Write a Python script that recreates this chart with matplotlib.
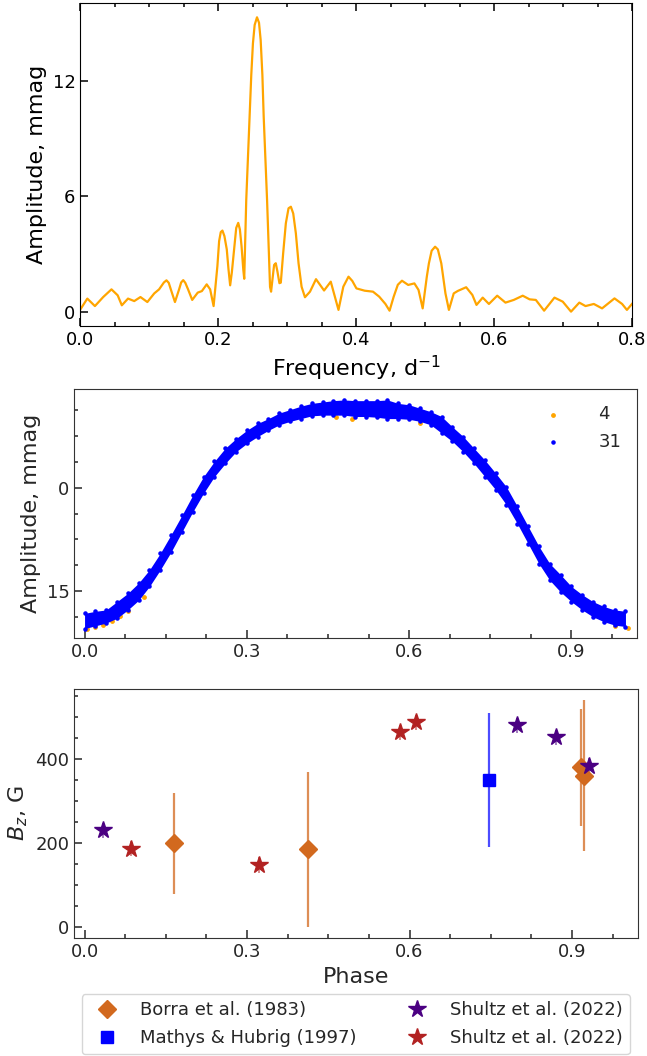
import matplotlib
matplotlib.use("Agg")
import matplotlib.pyplot as plt
from matplotlib.ticker import MultipleLocator, AutoMinorLocator

# --- periodogram ---
freq = [0.000, 0.010, 0.021, 0.033, 0.045, 0.054, 0.060, 0.069, 0.078, 0.087,
        0.097, 0.107, 0.114, 0.121, 0.1247, 0.128, 0.131, 0.137, 0.143, 0.146,
        0.149, 0.152, 0.156, 0.162, 0.170, 0.176, 0.183, 0.188, 0.193,
        0.1985, 0.2010, 0.2034, 0.2058, 0.2087, 0.2121, 0.2146, 0.2170, 0.2194,
        0.2228, 0.2258, 0.2287, 0.2311, 0.2335, 0.2360, 0.2374,
        0.2403, 0.2428, 0.2452, 0.2476, 0.2500, 0.2525, 0.2559, 0.2588, 0.2612,
        0.2637, 0.2656, 0.2680, 0.2705, 0.2729, 0.2748, 0.2763, 0.2782, 0.2807,
        0.2831, 0.2855, 0.2884, 0.2904, 0.2938, 0.2977, 0.3016, 0.3050, 0.3084,
        0.3122, 0.3161, 0.3205, 0.3254, 0.3327, 0.3414, 0.3531, 0.3628, 0.374,
        0.381, 0.3885, 0.394, 0.400, 0.412, 0.424, 0.433, 0.442, 0.448, 0.454,
        0.460, 0.466, 0.475, 0.484, 0.490, 0.496, 0.502, 0.505, 0.509, 0.514,
        0.518, 0.523, 0.529, 0.534, 0.541, 0.547, 0.559, 0.568, 0.574,
        0.583, 0.592, 0.604, 0.616, 0.628, 0.641, 0.651, 0.660, 0.672, 0.687,
        0.699, 0.711, 0.723, 0.732, 0.744, 0.756, 0.774, 0.785, 0.792, 0.800]
amp = [0.12, 0.68, 0.29, 0.76, 1.16, 0.85, 0.33, 0.68, 0.55, 0.76,
       0.50, 0.95, 1.16, 1.52, 1.63, 1.50, 1.16, 0.50, 1.16, 1.52,
       1.64, 1.50, 1.16, 0.61, 0.99, 1.07, 1.42, 1.16, 0.29,
       2.37, 3.67, 4.14, 4.22, 3.93, 3.24, 2.20, 1.37, 2.03,
       3.24, 4.36, 4.62, 4.28, 3.41, 2.20, 1.71,
       5.80, 8.07, 10.15, 12.32, 13.96, 14.92, 15.32, 15.04, 14.14,
       12.32, 10.15, 8.07, 5.80, 3.21, 1.29, 1.04, 1.65, 2.43,
       2.52, 2.09, 1.48, 1.51, 3.03, 4.60, 5.38, 5.46, 5.11,
       4.08, 2.52, 1.30, 0.75, 1.04, 1.69, 1.10, 1.56, 0.09,
       1.30, 1.82, 1.60, 1.21, 1.09, 1.04, 0.78, 0.40, 0.05, 0.78,
       1.40, 1.61, 1.39, 1.47, 1.13, 0.17, 1.82, 2.51, 3.17, 3.38,
       3.24, 2.51, 0.95, 0.09, 0.95, 1.08, 1.27, 0.87, 0.35,
       0.73, 0.40, 0.83, 0.47, 0.61, 0.83, 0.64, 0.61, 0.05, 0.73,
       0.52, 0.00, 0.47, 0.29, 0.40, 0.17, 0.69, 0.40, 0.09, 0.43]

# --- phased light curve: edges of the dense band of points ---
lc_phase = [0.00, 0.02, 0.04, 0.06, 0.08, 0.10, 0.12, 0.14, 0.16, 0.18,
            0.20, 0.22, 0.24, 0.26, 0.28, 0.30, 0.32, 0.34, 0.36, 0.38,
            0.40, 0.42, 0.44, 0.46, 0.48, 0.50, 0.52, 0.54, 0.56, 0.58,
            0.60, 0.62, 0.64, 0.66, 0.68, 0.70, 0.72, 0.74, 0.76, 0.78,
            0.80, 0.82, 0.84, 0.86, 0.88, 0.90, 0.92, 0.94, 0.96, 0.98, 1.00]
lc_top = [18.2, 17.9, 17.7, 16.5, 15.3, 13.8, 11.9, 9.5, 6.8, 4.0,
          1.1, -1.6, -3.8, -5.7, -7.1, -8.3, -9.3, -10.0, -10.8, -11.3,
          -11.8, -12.2, -12.4, -12.6, -12.7, -12.6, -12.6, -12.6, -12.7, -12.2,
          -12.0, -11.5, -11.0, -10.3, -8.8, -7.4, -5.7, -4.0, -2.1, -0.1,
          2.7, 5.6, 8.5, 11.0, 12.6, 14.3, 15.5, 16.5, 17.2, 17.7, 17.9]
lc_bottom = [20.4, 20.0, 19.6, 18.9, 17.7, 16.3, 14.3, 11.9, 9.3, 6.4,
             3.5, 0.8, -1.6, -3.5, -5.2, -6.4, -7.4, -8.3, -9.1, -9.6,
             -10.0, -10.4, -10.5, -10.5, -10.5, -10.3, -10.3, -10.2, -10.0, -10.0,
             -9.9, -9.6, -9.1, -7.9, -6.7, -5.2, -3.5, -1.6, 0.3, 2.5,
             5.2, 8.1, 11.0, 13.4, 15.1, 16.5, 17.7, 18.7, 19.4, 19.9, 20.1]
# the few orange (sector 4) points that peek out of the blue band
s4_phase = [0.005, 0.02, 0.035, 0.05, 0.065, 0.08, 0.11, 0.465, 0.495, 0.62, 0.70, 0.815, 0.98, 1.005]
s4_mag = [20.5, 20.2, 19.9, 19.3, 18.6, 17.9, 15.9, -10.2, -10.0, -9.4, -6.0, 6.3, 20.0, 20.3]

# --- longitudinal field measurements ---
borra_phase = [0.165, 0.412, 0.917, 0.923]
borra_bz = [200, 185, 380, 360]
borra_err = [120, 184, 139, 180]
mathys_phase = [0.7465]
mathys_bz = [350]
mathys_err = [160]
shultz1_phase = [0.034, 0.798, 0.870, 0.932]
shultz1_bz = [230, 480, 451, 383]
shultz2_phase = [0.086, 0.322, 0.583, 0.612]
shultz2_bz = [187, 148, 463, 487]
star_err = 18

fig = plt.figure(figsize=(6.47, 10.56), dpi=100)
ax1 = fig.add_axes([0.1243, 0.6916, 0.8532, 0.3053])
ax2 = fig.add_axes([0.1148, 0.3956, 0.8703, 0.2358])
ax3 = fig.add_axes([0.1148, 0.1115, 0.8714, 0.2361])

grey = '0.2'
txt = '0.15'

# top: amplitude spectrum
ax1.plot(freq, amp, color='orange', lw=1.6)
ax1.set_xlim(0, 0.8)
ax1.set_ylim(-0.73, 16.05)
ax1.xaxis.set_major_locator(MultipleLocator(0.2))
ax1.xaxis.set_minor_locator(AutoMinorLocator())
ax1.yaxis.set_major_locator(MultipleLocator(6))
ax1.tick_params(which='both', direction='in', top=True, labelsize=13)
ax1.tick_params(which='major', length=6, width=1.1)
ax1.tick_params(which='minor', length=3, width=1.1)
ax1.set_xlabel('Frequency, d$^{-1}$', fontsize=16)
ax1.set_ylabel('Amplitude, mmag', fontsize=16)

# middle: phased light curve
ax2.scatter(s4_phase, s4_mag, s=6, color='orange', label='4', zorder=1)
ax2.fill_between(lc_phase, lc_top, lc_bottom, color='blue', lw=0, zorder=2)
ax2.scatter(lc_phase + lc_phase, lc_top + lc_bottom, s=5, color='blue',
            label='31', zorder=3)
ax2.set_xlim(-0.019, 1.022)
ax2.set_ylim(21.8, -14.25)
ax2.xaxis.set_major_locator(MultipleLocator(0.3))
ax2.yaxis.set_major_locator(MultipleLocator(15))
ax2.set_ylabel('Amplitude, mmag', fontsize=16, color=txt)
ax2.legend(loc='upper right', frameon=False, fontsize=13, markerscale=1.0,
           labelcolor=txt, handletextpad=1.5)

# bottom: Bz vs phase
ax3.errorbar(borra_phase, borra_bz, yerr=borra_err, fmt='none',
             ecolor='chocolate', alpha=0.75, elinewidth=1.6, zorder=1)
ax3.errorbar(mathys_phase, mathys_bz, yerr=mathys_err, fmt='none',
             ecolor='blue', alpha=0.7, elinewidth=1.6, zorder=1)
ax3.errorbar(shultz1_phase, shultz1_bz, yerr=star_err, fmt='none',
             ecolor='indigo', alpha=0.6, elinewidth=1.2, zorder=1)
ax3.errorbar(shultz2_phase, shultz2_bz, yerr=star_err, fmt='none',
             ecolor='firebrick', alpha=0.6, elinewidth=1.2, zorder=1)
ax3.plot(borra_phase, borra_bz, 'D', color='chocolate', ms=9, ls='none',
         label='Borra et al. (1983)', zorder=3)
ax3.plot(mathys_phase, mathys_bz, 's', color='blue', ms=9, ls='none',
         label='Mathys & Hubrig (1997)', zorder=3)
ax3.plot(shultz1_phase, shultz1_bz, '*', color='indigo', ms=13, ls='none',
         label='Shultz et al. (2022)', zorder=3)
ax3.plot(shultz2_phase, shultz2_bz, '*', color='firebrick', ms=13, ls='none',
         label='Shultz et al. (2022)', zorder=3)
ax3.set_xlim(-0.019, 1.022)
ax3.set_ylim(-26, 566)
ax3.xaxis.set_major_locator(MultipleLocator(0.3))
ax3.yaxis.set_major_locator(MultipleLocator(200))
ax3.set_xlabel('Phase', fontsize=16, color=txt)
ax3.set_ylabel('$B_z$, G', fontsize=16, color=txt)
fig.legend(*ax3.get_legend_handles_labels(), loc='upper center',
           bbox_to_anchor=(0.550, 0.0672), ncol=2, fontsize=13,
           labelcolor=txt, handletextpad=0.8, columnspacing=2.4,
           labelspacing=0.55)

for ax in (ax2, ax3):
    ax.xaxis.set_minor_locator(AutoMinorLocator())
    ax.yaxis.set_minor_locator(AutoMinorLocator())
    ax.tick_params(which='both', direction='in', labelsize=13,
                   colors=txt)
    ax.tick_params(which='major', length=6, width=1.1)
    ax.tick_params(which='minor', length=3, width=1.1)
    for sp in ax.spines.values():
        sp.set_color(grey)

fig.savefig('out.png', dpi=100)
